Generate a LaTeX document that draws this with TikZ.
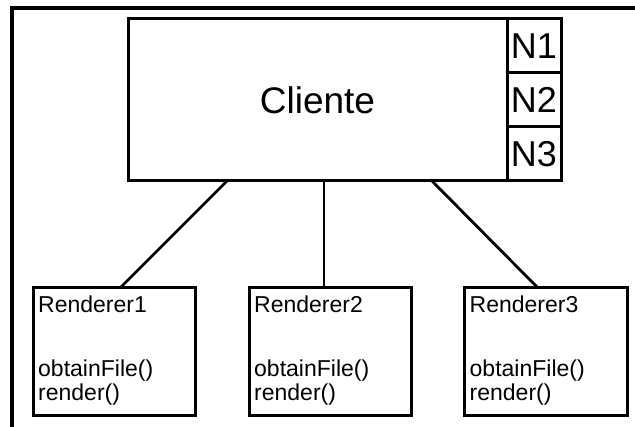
\documentclass[tikz,border=0pt]{standalone}
\usepackage{fontspec}
\setmainfont{Liberation Sans}
\begin{document}
\begin{tikzpicture}[x=1pt,y=-1pt,
    caja/.style={draw,line width=3pt,inner sep=0pt,outer sep=0pt},
    linea/.style={line width=2.8pt},
    grande/.style={font=\fontsize{37}{44}\selectfont},
    texto/.style={font=\fontsize{23}{24.5}\selectfont,inner sep=0pt,anchor=base west,align=left}]
    \useasboundingbox (0,0) rectangle (635,427);
    %marco
    \coordinate (m1) at (12,427);
    \coordinate (m2) at (12,8);
    \coordinate (m3) at (635,8);
    \draw[line width=3.2pt] (m1) -- (m2) -- (m3);
    %cliente y los bloques N
    \node[caja,grande,minimum width=379pt,minimum height=162pt] (cliente) at (317.5,100) {Cliente};
    \node[caja,grande,minimum width=54pt,minimum height=54pt,font=\fontsize{36}{43}\selectfont] (n1) at (534,46) {N1};
    \node[caja,grande,minimum width=54pt,minimum height=54pt,font=\fontsize{36}{43}\selectfont] (n2) at (534,100) {N2};
    \node[caja,grande,minimum width=54pt,minimum height=54pt,font=\fontsize{36}{43}\selectfont] (n3) at (534,154) {N3};
    %renderers
    \node[caja,minimum width=162pt,minimum height=128pt] (r1) at (114,352) {};
    \node[caja,minimum width=162pt,minimum height=128pt] (r2) at (330,352) {};
    \node[caja,minimum width=163pt,minimum height=128pt] (r3) at (545.5,352) {};
    \node[texto] (t1) at (38,313) {Renderer1};
    \node[texto] (t2) at (254,313) {Renderer2};
    \node[texto] (t3) at (469.5,313) {Renderer3};
    \node[texto] (f1) at (38,401) {obtainFile()\\render()};
    \node[texto] (f2) at (254,401) {obtainFile()\\render()};
    \node[texto] (f3) at (469.5,401) {obtainFile()\\render()};
    %lineas del cliente a los renderers
    \draw[linea] ([xshift=99pt]cliente.south west) -- ([xshift=87pt]r1.north west);
    \draw[linea] ([xshift=196pt]cliente.south west) -- ([xshift=75pt]r2.north west);
    \draw[linea] ([xshift=304pt]cliente.south west) -- ([xshift=74pt]r3.north west);
\end{tikzpicture}
\end{document}
